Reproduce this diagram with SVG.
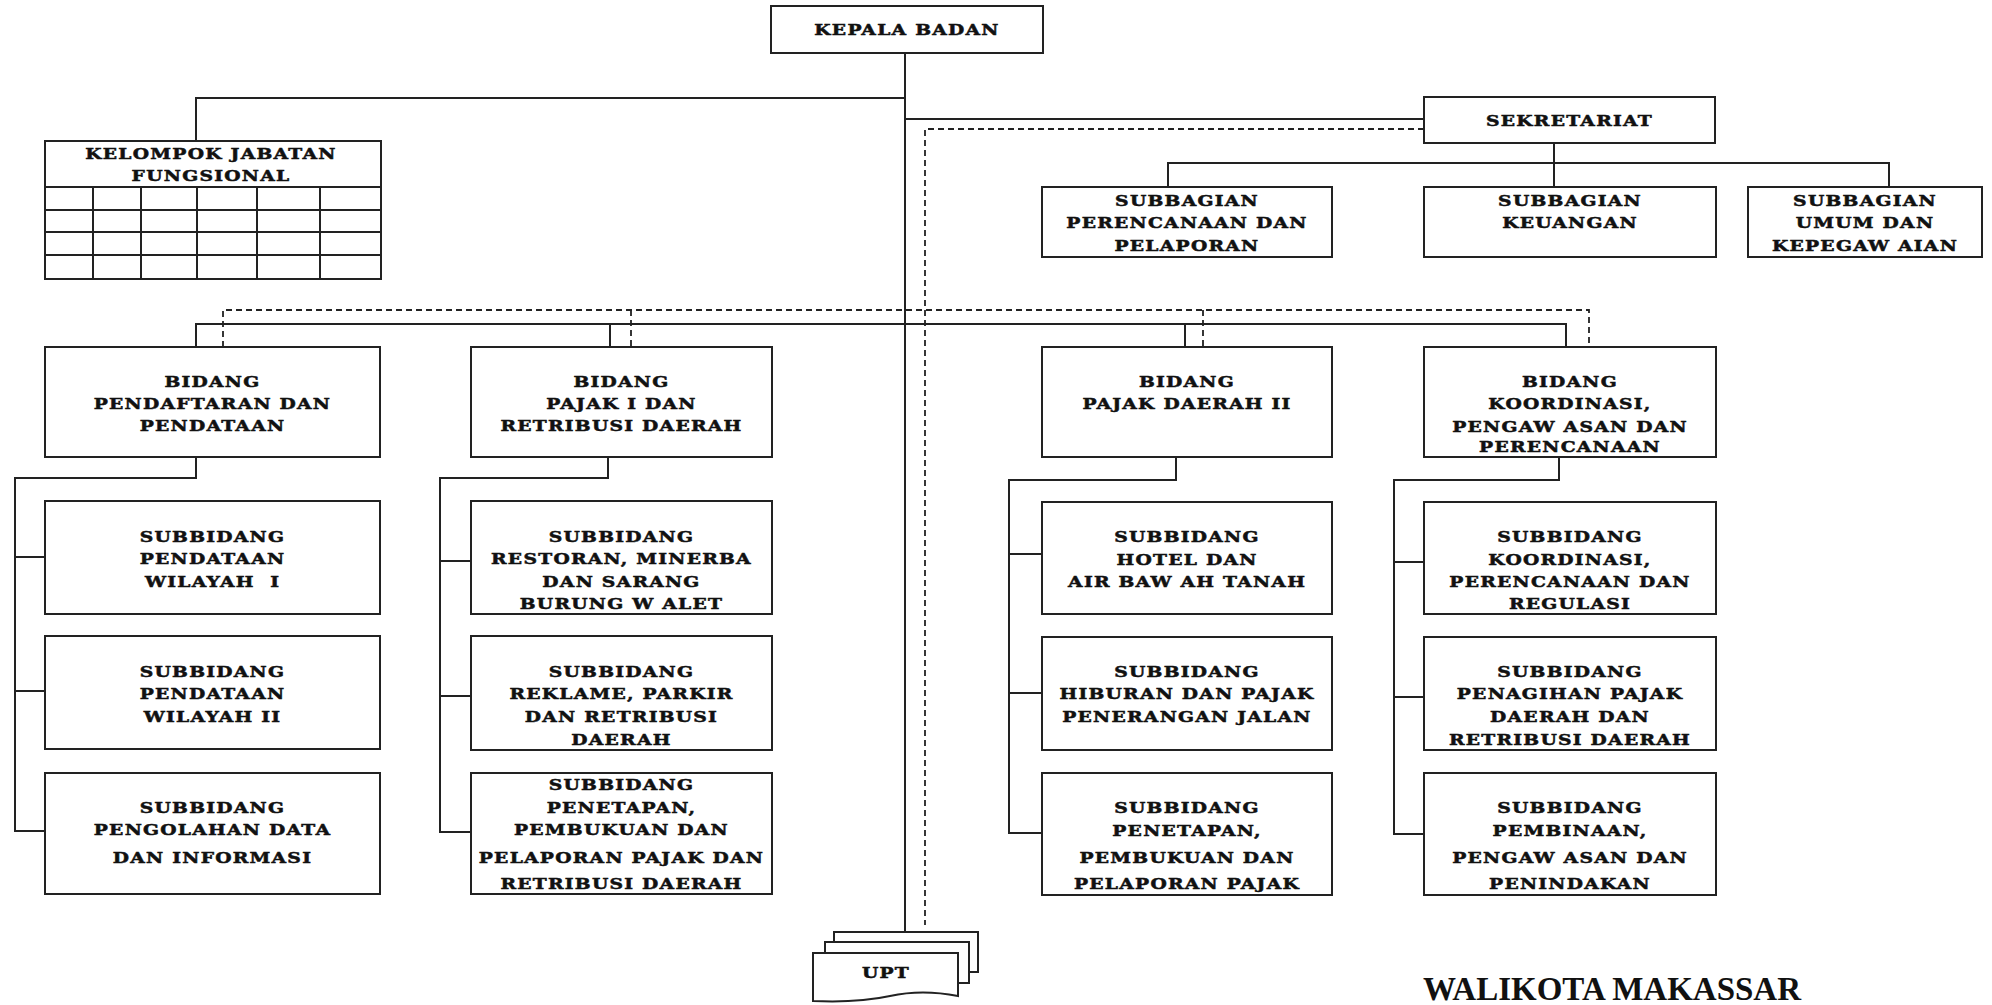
<svg xmlns="http://www.w3.org/2000/svg" width="1992" height="1005" viewBox="0 0 1992 1005">
<style>
.box{fill:#fff;stroke:#222;stroke-width:2}
.ln{fill:none;stroke:#222;stroke-width:2}
.dl{fill:none;stroke:#222;stroke-width:1.8;stroke-dasharray:6 4}
.t{font-family:"DejaVu Serif","Liberation Serif",serif;font-weight:bold;font-size:15px;letter-spacing:1px;fill:#111;stroke:#111;stroke-width:0.5;text-anchor:middle;transform-box:fill-box;transform-origin:center;transform:scaleX(1.25)}
.w{font-family:"Liberation Serif","DejaVu Serif",serif;font-weight:bold;font-size:33px;fill:#111}
</style>
<rect width="1992" height="1005" fill="#fff"/>
<g id="connectors">
<path class="ln" d="M905,53 V932"/>
<path class="ln" d="M905,98 H196 V141"/>
<path class="ln" d="M905,119 H1424"/>
<path class="ln" d="M1554,143 V187 M1168,187 V163 H1889 V187"/>
<path class="ln" d="M196,347 V324 H1566 V347 M610,324 V347 M1185,324 V347"/>
<path class="ln" d="M196,457 V478 H15 V831 H45 M15,557 H45 M15,691 H45"/>
<path class="ln" d="M608,457 V478 H440 V832 H471 M440,561 H471 M440,696 H471"/>
<path class="ln" d="M1176,457 V480 H1009 V833 H1042 M1009,554 H1042 M1009,693 H1042"/>
<path class="ln" d="M1559,457 V480 H1394 V834 H1424 M1394,562 H1424 M1394,697 H1424"/>
<path class="dl" d="M1424,129 H925 V925"/>
<path class="dl" d="M223,347 V310 H1589 V347 M631,310 V347 M1203,310 V347"/>
</g>
<g id="kepala-badan">
<rect class="box" x="771" y="6" width="272" height="47"/>
<text class="t" x="907" y="35">KEPALA BADAN</text>
</g>
<g id="kelompok-jabatan-fungsional">
<rect class="box" x="45" y="141" width="336" height="138"/>
<path class="ln" d="M45,187 H381 M45,210 H381 M45,232 H381 M45,255 H381 M93,187 V279 M141,187 V279 M197,187 V279 M257,187 V279 M320,187 V279"/>
<text class="t" x="211" y="159">KELOMPOK JABATAN</text>
<text class="t" x="211" y="181">FUNGSIONAL</text>
</g>
<g id="sekretariat">
<rect class="box" x="1424" y="97" width="291" height="46"/>
<text class="t" x="1569.5" y="126">SEKRETARIAT</text>
</g>
<g id="subbagian-perencanaan">
<rect class="box" x="1042" y="187" width="290" height="70"/>
<text class="t" x="1187" y="206">SUBBAGIAN</text>
<text class="t" x="1187" y="228">PERENCANAAN DAN</text>
<text class="t" x="1187" y="251">PELAPORAN</text>
</g>
<g id="subbagian-keuangan">
<rect class="box" x="1424" y="187" width="292" height="70"/>
<text class="t" x="1570" y="206">SUBBAGIAN</text>
<text class="t" x="1570" y="228">KEUANGAN</text>
</g>
<g id="subbagian-umum">
<rect class="box" x="1748" y="187" width="234" height="70"/>
<text class="t" x="1865" y="206">SUBBAGIAN</text>
<text class="t" x="1865" y="228">UMUM DAN</text>
<text class="t" x="1865" y="251">KEPEGAW AIAN</text>
</g>
<g id="bidang-pendaftaran">
<rect class="box" x="45" y="347" width="335" height="110"/>
<text class="t" x="212.5" y="387">BIDANG</text>
<text class="t" x="212.5" y="409">PENDAFTARAN DAN</text>
<text class="t" x="212.5" y="431">PENDATAAN</text>
</g>
<g id="bidang-pajak-1">
<rect class="box" x="471" y="347" width="301" height="110"/>
<text class="t" x="621.5" y="387">BIDANG</text>
<text class="t" x="621.5" y="409">PAJAK I DAN</text>
<text class="t" x="621.5" y="431">RETRIBUSI DAERAH</text>
</g>
<g id="bidang-pajak-2">
<rect class="box" x="1042" y="347" width="290" height="110"/>
<text class="t" x="1187" y="387">BIDANG</text>
<text class="t" x="1187" y="409">PAJAK DAERAH II</text>
</g>
<g id="bidang-koordinasi">
<rect class="box" x="1424" y="347" width="292" height="110"/>
<text class="t" x="1570" y="387">BIDANG</text>
<text class="t" x="1570" y="409">KOORDINASI,</text>
<text class="t" x="1570" y="432">PENGAW ASAN DAN</text>
<text class="t" x="1570" y="452">PERENCANAAN</text>
</g>
<g id="subbidang-wilayah-1">
<rect class="box" x="45" y="501" width="335" height="113"/>
<text class="t" x="212.5" y="542">SUBBIDANG</text>
<text class="t" x="212.5" y="564">PENDATAAN</text>
<text class="t" x="212.5" y="587">WILAYAH&#160; I</text>
</g>
<g id="subbidang-wilayah-2">
<rect class="box" x="45" y="636" width="335" height="113"/>
<text class="t" x="212.5" y="677">SUBBIDANG</text>
<text class="t" x="212.5" y="699">PENDATAAN</text>
<text class="t" x="212.5" y="722">WILAYAH II</text>
</g>
<g id="subbidang-pengolahan">
<rect class="box" x="45" y="773" width="335" height="121"/>
<text class="t" x="212.5" y="813">SUBBIDANG</text>
<text class="t" x="212.5" y="835">PENGOLAHAN DATA</text>
<text class="t" x="212.5" y="863">DAN INFORMASI</text>
</g>
<g id="subbidang-restoran">
<rect class="box" x="471" y="501" width="301" height="113"/>
<text class="t" x="621.5" y="542">SUBBIDANG</text>
<text class="t" x="621.5" y="564">RESTORAN, MINERBA</text>
<text class="t" x="621.5" y="587">DAN SARANG</text>
<text class="t" x="621.5" y="609">BURUNG W ALET</text>
</g>
<g id="subbidang-reklame">
<rect class="box" x="471" y="636" width="301" height="114"/>
<text class="t" x="621.5" y="677">SUBBIDANG</text>
<text class="t" x="621.5" y="699">REKLAME, PARKIR</text>
<text class="t" x="621.5" y="722">DAN RETRIBUSI</text>
<text class="t" x="621.5" y="745">DAERAH</text>
</g>
<g id="subbidang-penetapan-1">
<rect class="box" x="471" y="773" width="301" height="121"/>
<text class="t" x="621.5" y="790">SUBBIDANG</text>
<text class="t" x="621.5" y="813">PENETAPAN,</text>
<text class="t" x="621.5" y="835">PEMBUKUAN DAN</text>
<text class="t" x="621.5" y="863">PELAPORAN PAJAK DAN</text>
<text class="t" x="621.5" y="889">RETRIBUSI DAERAH</text>
</g>
<g id="subbidang-hotel">
<rect class="box" x="1042" y="502" width="290" height="112"/>
<text class="t" x="1187" y="542">SUBBIDANG</text>
<text class="t" x="1187" y="565">HOTEL DAN</text>
<text class="t" x="1187" y="587">AIR BAW AH TANAH</text>
</g>
<g id="subbidang-hiburan">
<rect class="box" x="1042" y="637" width="290" height="113"/>
<text class="t" x="1187" y="677">SUBBIDANG</text>
<text class="t" x="1187" y="699">HIBURAN DAN PAJAK</text>
<text class="t" x="1187" y="722">PENERANGAN JALAN</text>
</g>
<g id="subbidang-penetapan-2">
<rect class="box" x="1042" y="773" width="290" height="122"/>
<text class="t" x="1187" y="813">SUBBIDANG</text>
<text class="t" x="1187" y="836">PENETAPAN,</text>
<text class="t" x="1187" y="863">PEMBUKUAN DAN</text>
<text class="t" x="1187" y="889">PELAPORAN PAJAK</text>
</g>
<g id="subbidang-koordinasi">
<rect class="box" x="1424" y="502" width="292" height="112"/>
<text class="t" x="1570" y="542">SUBBIDANG</text>
<text class="t" x="1570" y="565">KOORDINASI,</text>
<text class="t" x="1570" y="587">PERENCANAAN DAN</text>
<text class="t" x="1570" y="609">REGULASI</text>
</g>
<g id="subbidang-penagihan">
<rect class="box" x="1424" y="637" width="292" height="113"/>
<text class="t" x="1570" y="677">SUBBIDANG</text>
<text class="t" x="1570" y="699">PENAGIHAN PAJAK</text>
<text class="t" x="1570" y="722">DAERAH DAN</text>
<text class="t" x="1570" y="745">RETRIBUSI DAERAH</text>
</g>
<g id="subbidang-pembinaan">
<rect class="box" x="1424" y="773" width="292" height="122"/>
<text class="t" x="1570" y="813">SUBBIDANG</text>
<text class="t" x="1570" y="836">PEMBINAAN,</text>
<text class="t" x="1570" y="863">PENGAW ASAN DAN</text>
<text class="t" x="1570" y="889">PENINDAKAN</text>
</g>
<g id="upt">
<rect class="box" x="834" y="932" width="144" height="40"/>
<rect class="box" x="825" y="942" width="144" height="41"/>
<path class="box" d="M813,953 H958 V996 Q922,989 890,996 T813,1001 Z"/>
<text class="t" x="886" y="978">UPT</text>
</g>
<g id="walikota">
<text class="w" x="1423" y="1000">WALIKOTA MAKASSAR</text>
</g>
</svg>
